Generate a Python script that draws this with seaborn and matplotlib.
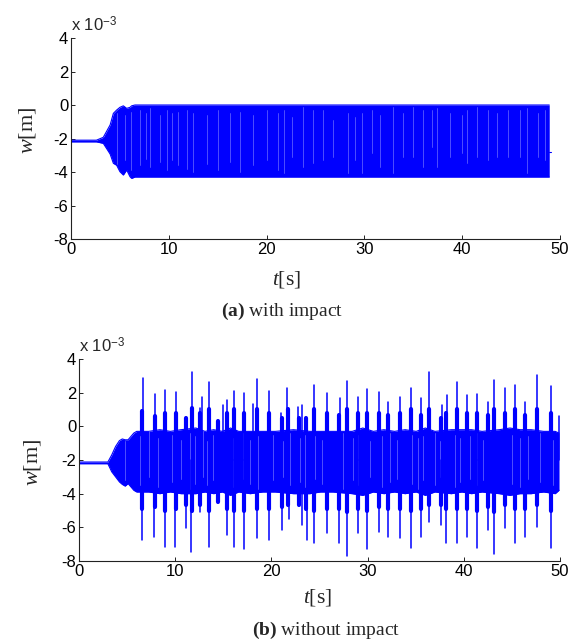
import numpy as np
import pandas as pd
import matplotlib
matplotlib.use("Agg")
import matplotlib.pyplot as plt
import seaborn as sns

# ---------------- data (values in units of 1e-3 m) ----------------
# Panel (a): envelope of the response with impact
t_a_env = [0.0, 2.6, 3.3, 4.0, 4.33, 4.67, 5.0, 5.35, 5.69, 6.03, 6.2, 6.54, 48.9]
hi_a = [-2.1, -2.1, -1.93, -1.19, -0.5, -0.3, -0.14, -0.05, -0.2, -0.14, -0.05, 0.0, 0.0]
lo_a = [-2.2, -2.2, -2.29, -2.93, -3.48, -3.6, -3.98, -4.18, -3.88, -4.28, -4.38, -4.3, -4.3]
t_a_tail = [48.9, 49.05]
v_a_tail = [-2.8, -2.8]

# Panel (a): lighter streaks inside the band
streak_a_t = [4.74, 5.52, 6.13, 7.06, 7.67, 8.08, 9.1, 9.85, 10.3, 10.97, 11.83,
              12.5, 13.9, 15.0, 16.3, 17.3, 18.6, 20.0, 21.2, 21.78, 22.56, 23.76,
              24.78, 25.8, 26.82, 28.36, 29.04, 29.72, 30.74, 31.6, 32.96, 33.98,
              35.0, 36.0, 36.88, 37.39, 38.75, 39.95, 40.46, 41.48, 42.67, 43.53,
              44.71, 45.91, 46.59, 47.78, 48.47]
streak_a_hi = [-0.5, -0.6, -0.4, -0.3, -0.5, -0.2, -0.6, -0.3, -0.5, -0.4, -0.3,
               -0.5, -0.6, -0.3, -0.5, -0.4, -0.6, -0.3, -0.5, -0.3, -0.7, -0.1,
               -0.3, -0.3, -0.9, -0.5, -0.7, -0.5, -0.3, -0.6, -0.1, -0.5,
               -0.1, -0.3, -0.3, -0.2, -0.5, -0.6, -0.3, -0.1, -0.3, -0.5,
               -0.3, -0.3, -0.2, -0.5, -0.3]
streak_a_lo = [-3.5, -3.3, -3.9, -3.6, -3.2, -3.7, -3.4, -3.9, -3.3, -3.6, -3.8,
               -4.0, -3.5, -3.9, -3.4, -4.0, -3.6, -3.3, -3.9, -4.08, -3.09, -3.68,
               -3.48, -3.28, -3.09, -4.08, -3.28, -4.08, -2.88, -3.68, -4.08, -3.09,
               -3.09, -3.68, -2.49, -3.68, -3.09, -2.88, -3.48, -3.09, -3.28, -3.09,
               -3.09, -3.09, -4.08, -3.09, -3.28]

# Panel (b): core band envelope (between bursts)
band_t_b = [0.0, 3.0, 3.4, 3.8, 4.2, 4.5, 4.8, 5.1, 5.4, 5.7, 6.0,
            7.25, 8.4, 9.5, 10.6, 12.15, 13.1, 14.0, 14.9, 15.75, 16.6, 17.8,
            19.1, 20.4, 22.3, 24.0, 25.1, 26.4, 28.4, 29.5, 30.6, 31.7, 32.8,
            33.9, 35.05, 36.0, 37.0, 38.7, 39.8, 40.8, 41.9, 43.7, 44.8, 45.85,
            47.0, 48.3, 49.5, 49.9]
band_hi_b = [-2.12, -2.12, -1.7, -1.2, -0.85, -0.75, -0.8, -0.8, -0.6, -0.4, -0.3,
             -0.3, -0.2, -0.3, -0.2, -0.1, -0.3, -0.2, -0.3, -0.1, -0.3, -0.3,
             -0.3, -0.3, -0.2, -0.3, -0.3, -0.3, -0.3, -0.1, -0.3, -0.2, -0.3,
             -0.2, -0.3, -0.1, -0.3, -0.2, -0.2, -0.2, -0.3, -0.2, -0.1, -0.2,
             -0.2, -0.3, -0.3, -0.4]
band_lo_b = [-2.22, -2.22, -2.7, -3.0, -3.3, -3.45, -3.55, -3.4, -3.6, -3.8, -3.9,
             -3.9, -4.0, -3.9, -4.0, -4.0, -3.9, -4.0, -3.9, -4.1, -3.9, -4.0,
             -3.9, -3.9, -4.0, -4.0, -3.9, -3.9, -4.0, -4.1, -3.9, -4.0, -3.9,
             -4.0, -3.9, -4.1, -3.9, -4.0, -3.9, -4.0, -3.9, -4.0, -4.1, -4.0,
             -4.0, -3.9, -4.0, -3.8]

# Panel (b): burst clusters (dense groups of lines around each burst)
clu_t = [6.6, 7.9, 8.95, 10.05, 11.1, 11.7, 12.6, 13.55, 14.45, 15.4, 16.1,
         17.15, 18.5, 19.77, 21.05, 21.7, 22.9, 23.6, 24.46, 25.75, 27.05,
         27.83, 29.04, 29.95, 31.19, 32.15, 33.37, 34.5, 35.6, 36.38, 37.65,
         38.2, 39.26, 40.3, 41.34, 42.48, 43.14, 44.28, 45.3, 46.4, 47.57, 49.06]
clu_hi = [0.9, 0.6, 0.8, 0.8, 0.5, 1.1, 0.8, 1.0, 0.3, 0.8, 1.0,
          0.8, 1.0, 0.8, 0.5, 1.0, 0.5, 0.5, 1.0, 0.8, 0.7,
          1.0, 0.8, 0.8, 0.8, 0.7, 0.8, 1.0, 0.7, 1.0, 0.5,
          0.8, 1.0, 0.8, 0.8, 0.7, 1.0, 0.8, 1.0, 0.7, 1.0, 0.8]
clu_lo = [-4.9, -4.8, -5.0, -4.9, -4.7, -5.0, -4.7, -5.0, -4.5, -4.9, -5.0,
          -5.0, -4.9, -4.9, -4.8, -4.7, -4.7, -4.9, -5.0, -4.9, -4.9,
          -5.1, -4.9, -5.0, -4.8, -4.9, -4.9, -5.0, -4.9, -4.7, -4.7,
          -4.9, -4.9, -4.9, -5.0, -4.8, -5.1, -4.7, -4.9, -4.9, -4.7, -5.0]

# Panel (b): spike extremes (up and down)
spk_up_t = [6.69, 7.9, 8.94, 10.05, 11.7, 12.58, 12.82, 13.55, 15.0, 15.4, 16.15,
            17.15, 18.1, 18.53, 19.78, 21.0, 21.65, 22.8, 23.15, 24.46, 25.75,
            27.13, 27.83, 29.04, 29.97, 31.19, 32.15, 33.37, 34.5, 35.6, 36.38,
            37.7, 38.22, 39.26, 40.3, 41.34, 42.48, 43.14, 44.28, 45.3, 46.4,
            47.57, 49.06, 49.9]
spk_up_v = [2.85, 1.9, 2.16, 2.02, 3.25, 1.07, 1.76, 2.65, 1.27, 1.56, 2.1,
            1.96, 1.3, 2.81, 2.1, 0.77, 2.26, 1.17, 1.27, 2.45, 1.96,
            1.66, 2.69, 1.76, 2.2, 2.02, 1.46, 1.76, 2.3, 1.66, 3.25,
            1.27, 1.86, 2.65, 1.86, 1.9, 1.46, 2.75, 2.26, 2.45, 1.46,
            3.05, 2.41, 0.6]
spk_dn_t = [6.5, 7.83, 8.94, 9.98, 11.09, 11.64, 12.58, 13.55, 15.4, 16.1, 17.15,
            18.47, 19.75, 21.1, 21.86, 23.15, 23.67, 24.46, 25.75, 27.03, 27.83,
            29.04, 29.9, 31.19, 32.15, 33.37, 34.5, 35.6, 36.38, 37.63, 38.15,
            39.26, 40.3, 41.34, 42.48, 43.14, 44.28, 45.3, 46.4, 47.57, 49.06]
spk_dn_v = [-6.75, -6.56, -7.15, -7.15, -6.06, -7.45, -5.07, -7.15, -6.46, -7.15, -7.29,
            -6.66, -6.75, -6.16, -5.5, -5.86, -6.75, -6.95, -6.36, -6.95, -7.7,
            -6.36, -7.3, -6.26, -6.56, -6.62, -7.25, -6.56, -5.67, -5.86, -6.95,
            -6.95, -6.56, -7.2, -6.16, -7.6, -6.06, -6.95, -6.56, -5.96, -7.25]

# Panel (b): lighter streaks inside the band
streak_b_t = [4.78, 6.34, 7.28, 8.24, 9.63, 10.6, 11.54, 12.06, 12.86, 13.27, 13.9,
              16.04, 17.08, 17.78, 18.64, 20.2, 21.24, 21.93, 22.97, 23.49, 24.53,
              25.23, 27.48, 28.51, 29.04, 30.25, 31.46, 32.33, 33.03, 34.58, 35.27,
              35.79, 37.01, 37.53, 39.09, 39.6, 40.64, 41.34, 42.03, 44.98, 45.84,
              46.7, 47.92, 49.3]
streak_b_hi = [-0.9, -0.6, -0.3, -0.7, -0.5, -0.8, -0.4, -0.6, -0.3, -0.9, -0.5,
               -0.7, -0.4, -0.8, -0.6, -0.5, -0.9, -0.4, -0.7, -0.5, -0.6,
               -0.8, -0.4, -0.7, -0.5, -0.9, -0.6, -0.4, -0.8, -0.5, -0.7,
               -0.6, -0.4, -0.9, -0.5, -0.7, -0.6, -0.4, -0.8, -0.5, -0.7,
               -0.6, -0.4, -0.8]
streak_b_lo = [-3.2, -3.5, -3.0, -3.6, -3.3, -3.1, -3.7, -3.4, -3.0, -3.5, -3.2,
               -3.6, -3.1, -3.4, -3.7, -3.2, -3.0, -3.5, -3.3, -3.6, -3.1,
               -3.4, -3.7, -3.2, -3.5, -3.0, -3.6, -3.3, -3.1, -3.4, -3.7,
               -3.2, -3.5, -3.0, -3.6, -3.3, -3.1, -3.5, -3.2, -3.4, -3.6,
               -3.1, -3.3, -3.5]

x_ticks = [0, 10, 20, 30, 40, 50]
y_ticks = [-8, -6, -4, -2, 0, 2, 4]
caption_a = ("(a)", "with impact")
caption_b = ("(b)", "without impact")

BLUE = "#0000ff"
STREAK = "#5a5aff"

# ---------------- style ----------------
sns.set_theme(style="white")
plt.rcParams["font.family"] = ["Liberation Sans", "DejaVu Sans"]
plt.rcParams["axes.unicode_minus"] = False
plt.rcParams["mathtext.fontset"] = "custom"
plt.rcParams["mathtext.it"] = "Liberation Serif:italic"
plt.rcParams["mathtext.rm"] = "Liberation Serif"
plt.rcParams["mathtext.bf"] = "Liberation Serif:bold"

fig = plt.figure(figsize=(5.75, 6.43), dpi=100)
ax_a = fig.add_axes([0.1235, 0.6283, 0.8504, 0.3126])
ax_b = fig.add_axes([0.1374, 0.1275, 0.8365, 0.3142])


def segments_frame(ts, v0, v1):
    rows = []
    for i, (t, a, b) in enumerate(zip(ts, v0, v1)):
        rows.append((i, t, a))
        rows.append((i, t, b))
    return pd.DataFrame(rows, columns=["id", "t", "v"])


def style_axes(ax):
    ax.set_xlim(0, 50)
    ax.set_ylim(-8, 4)
    ax.set_xticks(x_ticks)
    ax.set_yticks(y_ticks)
    ax.set_xticklabels([str(v) for v in x_ticks])
    ax.set_yticklabels([str(v) for v in y_ticks])
    ax.tick_params(direction="in", length=3, width=0.7, labelsize=12,
                   colors="#222222", labelcolor="black", pad=2,
                   bottom=True, left=True, top=False, right=False)
    for s in ["top", "right"]:
        ax.spines[s].set_visible(False)
    for s in ["left", "bottom"]:
        ax.spines[s].set_color("#222222")
        ax.spines[s].set_linewidth(0.8)
    ax.set_xlabel("")
    ax.set_ylabel("")
    ax.set_facecolor("white")
    ax.text(0.0, 1.02, r"x 10$^{\mathregular{-3}}$", transform=ax.transAxes,
            ha="left", va="bottom", fontsize=12)


# ---- panel (a)
ax_a.fill_between(t_a_env, lo_a, hi_a, color=BLUE, lw=0)
sns.lineplot(x=t_a_env, y=hi_a, color=BLUE, lw=0.8, ax=ax_a, sort=False)
sns.lineplot(x=t_a_env, y=lo_a, color=BLUE, lw=0.8, ax=ax_a, sort=False)
sns.lineplot(x=t_a_tail, y=v_a_tail, color=BLUE, lw=0.8, ax=ax_a, sort=False)
df_sa = segments_frame(streak_a_t, streak_a_lo, streak_a_hi)
sns.lineplot(data=df_sa, x="t", y="v", units="id", estimator=None, sort=False,
             color=STREAK, lw=0.6, ax=ax_a)
style_axes(ax_a)

# ---- panel (b)
ax_b.fill_between(band_t_b, band_lo_b, band_hi_b, color=BLUE, lw=0)
sns.lineplot(x=band_t_b, y=band_hi_b, color=BLUE, lw=0.8, ax=ax_b, sort=False)
sns.lineplot(x=band_t_b, y=band_lo_b, color=BLUE, lw=0.8, ax=ax_b, sort=False)
df_cl = segments_frame(clu_t, clu_lo, clu_hi)
sns.lineplot(data=df_cl, x="t", y="v", units="id", estimator=None, sort=False,
             color=BLUE, lw=3.0, ax=ax_b)
df_sb = segments_frame(streak_b_t, streak_b_lo, streak_b_hi)
sns.lineplot(data=df_sb, x="t", y="v", units="id", estimator=None, sort=False,
             color=STREAK, lw=0.6, ax=ax_b)
df_up = segments_frame(spk_up_t, [-2.0] * len(spk_up_t), spk_up_v)
df_dn = segments_frame(spk_dn_t, [-2.0] * len(spk_dn_t), spk_dn_v)
sns.lineplot(data=df_up, x="t", y="v", units="id", estimator=None, sort=False,
             color=BLUE, lw=1.1, ax=ax_b)
sns.lineplot(data=df_dn, x="t", y="v", units="id", estimator=None, sort=False,
             color=BLUE, lw=1.1, ax=ax_b)
style_axes(ax_b)

# ---- labels and captions
serif = "Liberation Serif"
fig.text(0.047, 0.798, r"$w$[m]", rotation=90, ha="center", va="center",
         fontsize=16, family=serif)
fig.text(0.057, 0.2815, r"$w$[m]", rotation=90, ha="center", va="center",
         fontsize=16, family=serif)
fig.text(0.499, 0.566, r"$t$[s]", ha="center", va="center", fontsize=15.5, family=serif)
fig.text(0.553, 0.0715, r"$t$[s]", ha="center", va="center", fontsize=15.5, family=serif)
fig.text(0.49, 0.516, r"$\mathbf{%s}$ %s" % caption_a, ha="center", va="center",
         fontsize=14, family=serif)
fig.text(0.567, 0.019, r"$\mathbf{%s}$ %s" % caption_b, ha="center", va="center",
         fontsize=14, family=serif)

fig.savefig("out.png", dpi=100, facecolor="white")
